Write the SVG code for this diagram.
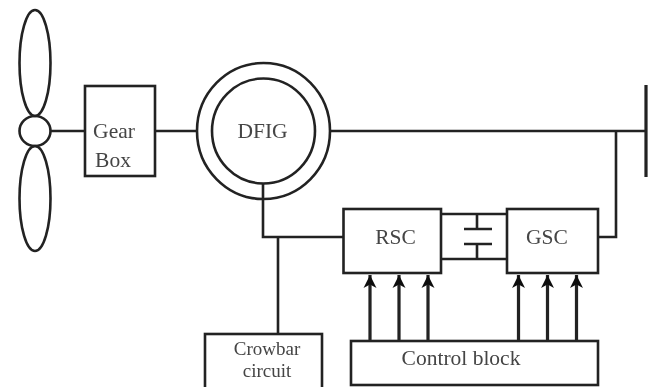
<svg xmlns="http://www.w3.org/2000/svg" width="651" height="387" viewBox="0 0 651 387">
<defs>
<style>
.s{fill:none;stroke:#222;stroke-width:2.6}
.b{fill:#fff;stroke:#222;stroke-width:2.6}
.t{fill:none;stroke:#222;stroke-width:3.2}
text{font-family:"Liberation Serif","Times New Roman",serif;font-size:21.500px;fill:#444;text-anchor:middle}
</style>
<marker id="a" markerUnits="userSpaceOnUse" markerWidth="16" markerHeight="14" refX="13" refY="7" orient="auto"><path d="M0 0.500L13 7L0 13.500L3.500 7Z" fill="#111"/></marker>
<filter id="f" x="-5%" y="-5%" width="110%" height="110%"><feGaussianBlur stdDeviation="0.6"/></filter>
</defs>
<rect width="651" height="387" fill="#fff"/>
<g filter="url(#f)">
<g id="connectors">
<path class="s" d="M50 131H85M155 131H197M330 131H646M616 131V237H598M263 184V237H344M278 237V334M441 214H507M441 259H507M477 214V229M464 229H492M464 244H492M477 244V259"/>
<path class="t" d="M646 85V177"/>
<path class="t" marker-end="url(#a)" d="M370 341V275"/>
<path class="t" marker-end="url(#a)" d="M399 341V275"/>
<path class="t" marker-end="url(#a)" d="M428 341V275"/>
<path class="t" marker-end="url(#a)" d="M518.500 341V275"/>
<path class="t" marker-end="url(#a)" d="M547.500 341V275"/>
<path class="t" marker-end="url(#a)" d="M576.500 341V275"/>
</g>
<g id="turbine">
<ellipse class="s" cx="35" cy="63" rx="15.500" ry="53"/>
<ellipse class="s" cx="35" cy="198.500" rx="15.500" ry="52.500"/>
<ellipse class="s" cx="35" cy="131" rx="15.500" ry="15"/>
</g>
<g id="gearbox"><rect class="b" x="85" y="86" width="70" height="90"/><text x="114" y="138">Gear</text><text x="113" y="167">Box</text></g>
<g id="dfig"><ellipse class="s" cx="263.500" cy="131" rx="66.500" ry="68"/><ellipse class="s" cx="263.500" cy="131" rx="51.500" ry="52.500"/><text x="262.500" y="138">DFIG</text></g>
<g id="rsc"><rect class="b" x="343.500" y="209" width="97.500" height="64"/><text x="395.500" y="244">RSC</text></g>
<g id="gsc"><rect class="b" x="507" y="209" width="91" height="64"/><text x="547" y="244">GSC</text></g>
<g id="crowbar"><rect class="b" x="205" y="334" width="117" height="60"/><text x="267" y="355" style="font-size:19px">Crowbar</text><text x="267" y="377" style="font-size:19px">circuit</text></g>
<g id="control"><rect class="b" x="351" y="341" width="247" height="44"/><text x="461" y="365">Control block</text></g>
</g>
</svg>
